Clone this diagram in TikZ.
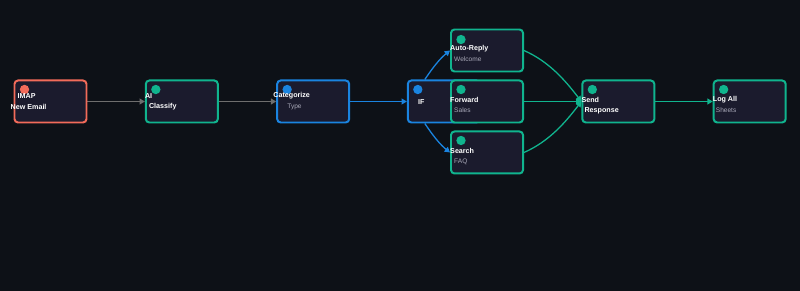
\documentclass[tikz,border=0pt]{standalone}
\usepackage{fontspec}
\setmainfont{Liberation Sans}
\usetikzlibrary{positioning,arrows.meta}

\definecolor{canvas}{HTML}{0D1117}
\definecolor{cardbg}{HTML}{1B1B2D}
\definecolor{trigred}{HTML}{F26B5A}
\definecolor{aigreen}{HTML}{10B48E}
\definecolor{flowblue}{HTML}{1A84E0}
\definecolor{wiregray}{HTML}{6E6E6E}
\definecolor{subgray}{HTML}{A8A8B8}

\pgfdeclarelayer{bg}
\pgfdeclarelayer{wires}
\pgfsetlayers{bg,wires,main}

\begin{document}
\begin{tikzpicture}[x=0.03cm, y=-0.03cm,
  node distance=1.72cm,
  card/.style={draw, rounded corners=3pt, line width=1.7pt, fill=cardbg, minimum width=2.16cm, minimum height=1.26cm, inner sep=0pt},
  dot/.style={circle, inner sep=0pt, minimum size=0.28cm},
  title/.style={anchor=west, inner sep=0pt, text=white, font=\fontsize{6.1}{7}\selectfont\bfseries},
  sub/.style={anchor=west, inner sep=0pt, text=subgray, font=\fontsize{5.6}{6.5}\selectfont},
  wire/.style={line width=1.1pt, -{Triangle[length=4.5pt,width=5pt]}}
]
\useasboundingbox (0,0) rectangle (800,291);
\begin{pgfonlayer}{bg}
  \fill[canvas] (0,0) rectangle (800,291);
\end{pgfonlayer}

% Main row of cards
\node[card, draw=trigred] (imap) at (50.5,101.5) {};
\node[card, draw=aigreen, right=of imap] (classify) {};
\node[card, draw=flowblue, right=of classify] (categorize) {};
\node[card, draw=flowblue, right=1.7cm of categorize] (if) {};

% Branches (drawn over the IF card)
\node[card, draw=aigreen] (forward) at (487,101.5) {};
\node[card, draw=aigreen, above=0.21cm of forward] (autoreply) {};
\node[card, draw=aigreen, below=0.21cm of forward] (search) {};

% Tail
\node[card, draw=aigreen, right=1.72cm of forward] (send) {};
\node[card, draw=aigreen, right=1.72cm of send] (logall) {};

% Status dots
\node[dot, fill=trigred] (imapdot) at ([shift={(11,10)}]imap.north west) {};
\node[dot, fill=aigreen] (classifydot) at ([shift={(11,10)}]classify.north west) {};
\node[dot, fill=flowblue] (categorizedot) at ([shift={(11,10)}]categorize.north west) {};
\node[dot, fill=flowblue] (ifdot) at ([shift={(11,10)}]if.north west) {};
\node[dot, fill=aigreen] (autoreplydot) at ([shift={(11,11)}]autoreply.north west) {};
\node[dot, fill=aigreen] (forwarddot) at ([shift={(11,10)}]forward.north west) {};
\node[dot, fill=aigreen] (searchdot) at ([shift={(11,10)}]search.north west) {};
\node[dot, fill=aigreen] (senddot) at ([shift={(11,10)}]send.north west) {};
\node[dot, fill=aigreen] (logalldot) at ([shift={(11,10)}]logall.north west) {};

% Labels
\node[title] (imapt) at ([shift={(4,16.5)}]imap.north west) {IMAP};
\node[title] (imaps) at ([shift={(-3,27)}]imap.north west) {New Email};
\node[title] (classifyt) at ([shift={(0,16.5)}]classify.north west) {AI};
\node[title] (classifys) at ([shift={(4,27)}]classify.north west) {Classify};
\node[title] (categorizet) at ([shift={(-3,16.5)}]categorize.north west) {Categorize};
\node[sub] (categorizes) at ([shift={(11,27)}]categorize.north west) {Type};
\node[title] (ift) at ([shift={(11,23)}]if.north west) {IF};
\node[title] (autoreplyt) at ([shift={(0,20)}]autoreply.north west) {Auto-Reply};
\node[sub] (autoreplys) at ([shift={(4,31)}]autoreply.north west) {Welcome};
\node[title] (forwardt) at ([shift={(0,20)}]forward.north west) {Forward};
\node[sub] (forwards) at ([shift={(4,31)}]forward.north west) {Sales};
\node[title] (searcht) at ([shift={(0,20)}]search.north west) {Search};
\node[sub] (searchs) at ([shift={(4,31)}]search.north west) {FAQ};
\node[title] (sendt) at ([shift={(0,20)}]send.north west) {Send};
\node[title] (sends) at ([shift={(3,31)}]send.north west) {Response};
\node[title] (logallt) at ([shift={(0,20)}]logall.north west) {Log All};
\node[sub] (logalls) at ([shift={(3,31)}]logall.north west) {Sheets};

% Connections
\begin{pgfonlayer}{wires}
  \draw[wire, wiregray] (imap) -- (classify);
  \draw[wire, wiregray] (classify) -- (categorize);
  \draw[wire, flowblue] (categorize) -- (if);
  \draw[wire, flowblue] ([shift={(18,0)}]if.north west) .. controls +(8,-12) and +(-10,8) .. (autoreply.west);
  \draw[wire, flowblue] (if) -- (forward.west);
  \draw[wire, flowblue] ([shift={(18,0)}]if.south west) .. controls +(8,12) and +(-10,-8) .. (search.west);
  \draw[wire, aigreen] (autoreply.east) .. controls +(25,11) and +(-16,-21) .. (send.west);
  \draw[wire, aigreen] (forward) -- (send);
  \draw[wire, aigreen] (search.east) .. controls +(25,-11) and +(-16,21) .. (send.west);
  \draw[wire, aigreen] (send) -- (logall);
\end{pgfonlayer}
\end{tikzpicture}
\end{document}
